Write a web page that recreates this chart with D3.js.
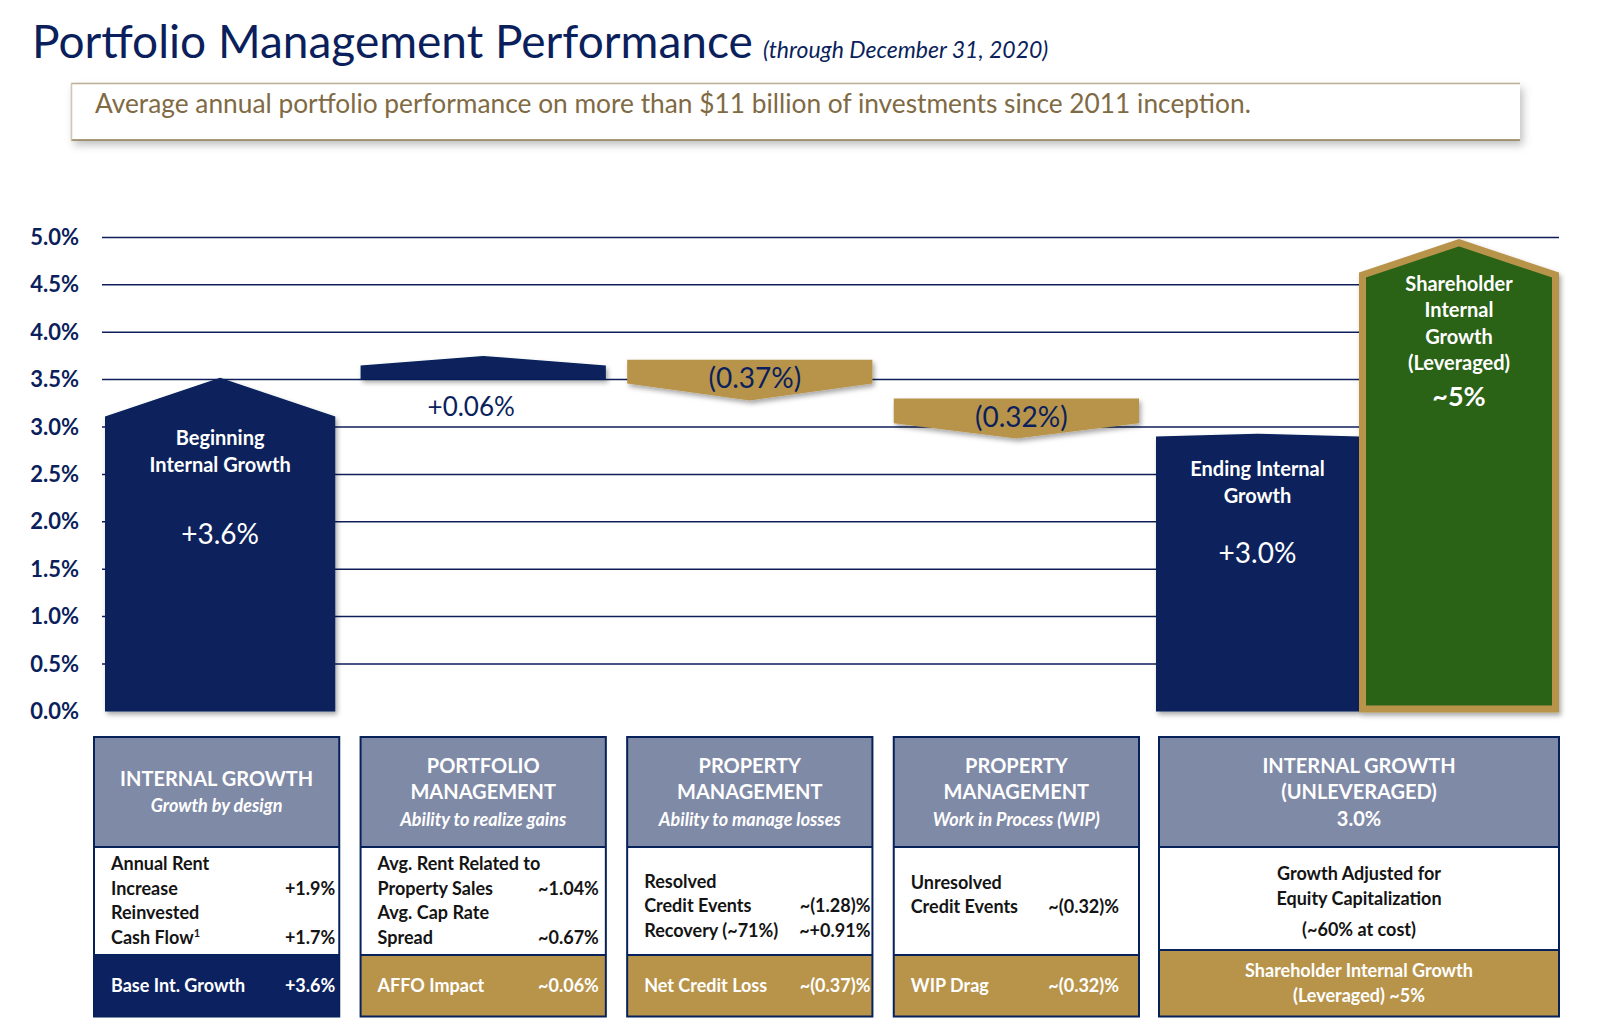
<!DOCTYPE html>
<html>
<head>
<meta charset="utf-8">
<script src="https://cdn.jsdelivr.net/npm/d3@7"></script>
<style>
	body { margin: 0; background: #fff; }
	svg text { font-family: Lato, "Open Sans", sans-serif; }
</style>
</head>
<body>
<svg id="chart" width="1600" height="1032"></svg>
<script>
// ---------------- data ----------------
const yTicks = [0, 0.5, 1, 1.5, 2, 2.5, 3, 3.5, 4, 4.5, 5];

const barKeys = ['internal', 'portfolio', 'credit', 'wip', 'ending', 'shareholder'];
// each bar is a house / chevron shape: start level, shoulder level, tip level (in %)
const barStart = [0, 3.50, 3.71, 3.30, 0, 0];
const barShoulder = [3.11, 3.65, 3.46, 3.04, 2.90, 4.64];
const barTip = [3.52, 3.75, 3.28, 2.88, 2.93, 4.98];
const barKind = ['navy', 'navy', 'gold', 'gold', 'navy', 'green'];
const barTitles = [
	['Beginning', 'Internal Growth'], [], [], [],
	['Ending Internal', 'Growth'],
	['Shareholder', 'Internal', 'Growth', '(Leveraged)']
];
const barValues = ['+3.6%', '+0.06%', '(0.37%)', '(0.32%)', '+3.0%', '~5%'];

const boxKeys = ['internal', 'portfolio', 'credit', 'wip', 'unleveraged'];
const boxHeads = [
	['INTERNAL GROWTH'],
	['PORTFOLIO', 'MANAGEMENT'],
	['PROPERTY', 'MANAGEMENT'],
	['PROPERTY', 'MANAGEMENT'],
	['INTERNAL GROWTH', '(UNLEVERAGED)', '3.0%']
];
const boxTags = ['Growth by design', 'Ability to realize gains', 'Ability to manage losses', 'Work in Process (WIP)', ''];
const boxRows = [
	[['Annual Rent', ''], ['Increase', '+1.9%'], ['Reinvested', ''], ['Cash Flow', '+1.7%', '1']],
	[['Avg. Rent Related to', ''], ['Property Sales', '~1.04%'], ['Avg. Cap Rate', ''], ['Spread', '~0.67%']],
	[['Resolved', ''], ['Credit Events', '~(1.28)%'], ['Recovery (~71%)', '~+0.91%']],
	[['Unresolved', ''], ['Credit Events', '~(0.32)%']],
	[['Growth Adjusted for', ''], ['Equity Capitalization', ''], ['(~60% at cost)', '']]
];
const boxFooters = [
	['Base Int. Growth', '+3.6%'],
	['AFFO Impact', '~0.06%'],
	['Net Credit Loss', '~(0.37)%'],
	['WIP Drag', '~(0.32)%'],
	['Shareholder Internal Growth', '(Leveraged) ~5%']
];

// ---------------- look ----------------
const NAVY = '#07215b';
const TEXT_NAVY = '#0b1f5c';
const GOLD = '#b8944b';
const GREEN = '#2b6219';
const SLATE = '#7f8aa7';
const fills = { navy: NAVY, gold: GOLD, green: GREEN };

const svg = d3.select('#chart');

const defs = svg.append('defs');
defs.append('filter').attr('id', 'shadow')
	.attr('x', '-10%').attr('y', '-10%').attr('width', '130%').attr('height', '140%')
	.append('feDropShadow')
	.attr('dx', 2).attr('dy', 3).attr('stdDeviation', 2.5)
	.attr('flood-color', '#000').attr('flood-opacity', 0.35);
defs.append('filter').attr('id', 'boxShadow')
	.attr('x', '-5%').attr('y', '-30%').attr('width', '110%').attr('height', '170%')
	.append('feDropShadow')
	.attr('dx', 3).attr('dy', 5).attr('stdDeviation', 4)
	.attr('flood-color', '#000').attr('flood-opacity', 0.25);

/* -------------------- title ---------------------- */
svg.append('text')
	.attr('x', 32).attr('y', 58)
	.attr('font-size', 46).attr('fill', TEXT_NAVY)
	.text('Portfolio Management Performance');
svg.append('text')
	.attr('x', 763).attr('y', 58)
	.attr('font-size', 23).attr('font-style', 'italic').attr('fill', TEXT_NAVY)
	.text('(through December 31, 2020)');

const sub = svg.append('g');
sub.append('rect')
	.attr('x', 71).attr('y', 83).attr('width', 1449).attr('height', 57)
	.attr('fill', '#fff').attr('filter', 'url(#boxShadow)');
sub.append('line').attr('x1', 71).attr('x2', 1520).attr('y1', 83.5).attr('y2', 83.5)
	.attr('stroke', '#bcae95').attr('stroke-width', 1.5);
sub.append('line').attr('x1', 71).attr('x2', 1520).attr('y1', 140).attr('y2', 140)
	.attr('stroke', '#8f7a55').attr('stroke-width', 1.5);
sub.append('line').attr('x1', 71.5).attr('x2', 71.5).attr('y1', 83).attr('y2', 140.5)
	.attr('stroke', '#cfc6b6').attr('stroke-width', 1.5);
sub.append('text')
	.attr('x', 95).attr('y', 113)
	.attr('font-size', 26.3).attr('fill', '#806a44')
	.text('Average annual portfolio performance on more than $11 billion of investments since 2011 inception.');

/* -------------------- scales ---------------------- */
const y = d3.scaleLinear().domain([0, 5]).range([711.4, 237.4]);

const x = d3.scaleBand()
	.domain(barKeys.slice(0, 4))
	.range([94, 1139])
	.paddingInner(0.08);

const x2 = d3.scaleBand()
	.domain(barKeys.slice(4))
	.range([1156, 1562]);

function barLeft(key) {
	return x.domain().includes(key) ? x(key) : x2(key);
}
function barWidth(key) {
	return x.domain().includes(key) ? x.bandwidth() : x2.bandwidth();
}

/* -------------------- grid + axis ---------------------- */
const grid = svg.append('g');
grid.selectAll('line')
	.data(yTicks.filter(d => d > 0))
	.join('line')
	.attr('x1', 102).attr('x2', 1559)
	.attr('y1', d => y(d)).attr('y2', d => y(d))
	.attr('stroke', '#0d1e5a').attr('stroke-width', 1.5);

const yAxis = svg.append('g')
	.attr('transform', 'translate(79,0)')
	.call(d3.axisLeft(y).tickValues(yTicks).tickSize(0).tickPadding(0)
		.tickFormat(d => d3.format('.1f')(d) + '%'));
yAxis.select('.domain').remove();
yAxis.selectAll('text')
	.attr('font-size', 22).attr('font-weight', 'bold')
	.attr('fill', TEXT_NAVY).attr('font-family', 'Lato, sans-serif');

svg.append('line')
	.attr('x1', 89).attr('x2', 1362)
	.attr('y1', y(0) + 1).attr('y2', y(0) + 1)
	.attr('stroke', NAVY).attr('stroke-width', 3.5)
	.attr('filter', 'url(#shadow)');

/* -------------------- bars ---------------------- */
const bars = barKeys.map((key, i) => {
	let x0 = barLeft(key);
	let x1 = x0 + barWidth(key);
	if (i === 0) { x0 += 11; x1 -= 4; }
	if (key === 'shareholder') { x1 -= 3; }
	return {
		key, x0, x1, kind: barKind[i],
		y0: y(barStart[i]), ys: y(barShoulder[i]), yt: y(barTip[i]),
		titles: barTitles[i], value: barValues[i]
	};
});

function shape(b) {
	const mid = (b.x0 + b.x1) / 2;
	if (b.kind === 'green') {
		const h = 3.5;
		return [[b.x0 + h, b.y0 + 1 - h], [b.x0 + h, b.ys + h], [mid, b.yt + h],
			[b.x1 - h, b.ys + h], [b.x1 - h, b.y0 + 1 - h]];
	}
	return [[b.x0, b.y0], [b.x0, b.ys], [mid, b.yt], [b.x1, b.ys], [b.x1, b.y0]];
}

svg.append('g').selectAll('polygon')
	.data(bars)
	.join('polygon')
	.attr('points', d => shape(d).map(p => p.join(',')).join(' '))
	.attr('fill', d => fills[d.kind])
	.attr('stroke', d => d.kind === 'green' ? GOLD : 'none')
	.attr('stroke-width', 7)
	.attr('filter', 'url(#shadow)');

/* -------------------- bar labels ---------------------- */
const titleDy = { internal: 28.5, ending: 40, shareholder: 19 };
bars.forEach(b => {
	const cx = (b.x0 + b.x1) / 2;
	const g = svg.append('g');
	let lastY = 0;
	b.titles.forEach((t, j) => {
		lastY = b.ys + titleDy[b.key] + j * 26.6;
		g.append('text')
			.attr('x', cx).attr('y', lastY)
			.attr('text-anchor', 'middle')
			.attr('font-size', 20).attr('font-weight', 'bold').attr('fill', '#fff')
			.text(t);
	});
	const v = g.append('text').attr('text-anchor', 'middle').text(b.value);
	if (b.key === 'internal' || b.key === 'ending') {
		v.attr('x', cx).attr('y', b.ys + 127).attr('font-size', 28).attr('fill', '#fff');
	} else if (b.key === 'shareholder') {
		v.attr('x', cx).attr('y', lastY + 36).attr('font-size', 27)
			.attr('font-weight', 'bold').attr('fill', '#fff');
	} else if (b.key === 'portfolio') {
		v.attr('x', cx - 12).attr('y', b.y0 + 36).attr('font-size', 26).attr('fill', TEXT_NAVY);
	} else {
		v.attr('x', cx + 5).attr('y', b.y0 + 28.5).attr('font-size', 28).attr('fill', TEXT_NAVY);
	}
});

/* -------------------- boxes under the chart ---------------------- */
const BOX_TOP = 737;
const HEAD_BOTTOM = 847;
const BOX_BOTTOM = 1016.5;
const valueInset = [4, 7, 2, 20, 0];
const bodyShift = [0, 0, 5, -6, 0];

boxKeys.forEach((key, i) => {
	const last = i === boxKeys.length - 1;
	const left = last ? 1159 : x(key);
	const right = last ? 1559 : x(key) + x.bandwidth();
	const footTop = last ? 950 : 955;
	const cx = (left + right) / 2;
	const g = svg.append('g');

	g.append('rect')
		.attr('x', left).attr('y', BOX_TOP)
		.attr('width', right - left).attr('height', HEAD_BOTTOM - BOX_TOP)
		.attr('fill', SLATE);
	g.append('rect')
		.attr('x', left).attr('y', footTop)
		.attr('width', right - left).attr('height', BOX_BOTTOM - footTop)
		.attr('fill', i === 0 ? '#0c2260' : GOLD);
	g.append('rect')
		.attr('x', left).attr('y', BOX_TOP)
		.attr('width', right - left).attr('height', BOX_BOTTOM - BOX_TOP)
		.attr('fill', 'none').attr('stroke', NAVY).attr('stroke-width', 2);
	[HEAD_BOTTOM, footTop].forEach(yy => {
		g.append('line')
			.attr('x1', left).attr('x2', right).attr('y1', yy).attr('y2', yy)
			.attr('stroke', NAVY).attr('stroke-width', 2);
	});

	// header
	const head = boxHeads[i].map(t => ({ t, italic: false }));
	if (boxTags[i]) head.push({ t: boxTags[i], italic: true });
	const hc = (BOX_TOP + HEAD_BOTTOM) / 2;
	head.forEach((h, j) => {
		g.append('text')
			.attr('x', cx)
			.attr('y', hc - (head.length - 1) * 26.5 / 2 + j * 26.5 + 7)
			.attr('text-anchor', 'middle')
			.attr('font-size', h.italic ? 18 : 20)
			.attr('font-weight', 'bold')
			.attr('font-style', h.italic ? 'italic' : 'normal')
			.attr('fill', '#fff')
			.text(h.t);
	});

	// body rows
	const rows = boxRows[i];
	const bc = (HEAD_BOTTOM + footTop) / 2 + bodyShift[i];
	const lastOffsets = [-18.5, 6, 37.5];
	rows.forEach((r, j) => {
		const yy = last ? bc + lastOffsets[j] : bc - (rows.length - 1) * 24.5 / 2 + j * 24.5 + 6;
		const t = g.append('text')
			.attr('x', last ? cx : left + 17).attr('y', yy)
			.attr('text-anchor', last ? 'middle' : 'start')
			.attr('font-size', 18).attr('font-weight', 'bold').attr('fill', '#141414')
			.text(r[0]);
		if (r[2]) {
			t.append('tspan').attr('dy', -7).attr('font-size', 11).text(r[2]);
		}
		if (r[1]) {
			g.append('text')
				.attr('x', right - valueInset[i]).attr('y', yy)
				.attr('text-anchor', 'end')
				.attr('font-size', 18).attr('font-weight', 'bold').attr('fill', '#141414')
				.text(r[1]);
		}
	});

	// footer
	const f = boxFooters[i];
	const fc = (footTop + BOX_BOTTOM) / 2;
	if (last) {
		f.forEach((t, j) => {
			g.append('text')
				.attr('x', cx).attr('y', fc - 12.5 + j * 25 + 6)
				.attr('text-anchor', 'middle')
				.attr('font-size', 18).attr('font-weight', 'bold').attr('fill', '#fff')
				.text(t);
		});
	} else {
		g.append('text')
			.attr('x', left + 17).attr('y', fc + 6)
			.attr('font-size', 18).attr('font-weight', 'bold').attr('fill', '#fff')
			.text(f[0]);
		g.append('text')
			.attr('x', right - valueInset[i]).attr('y', fc + 6)
			.attr('text-anchor', 'end')
			.attr('font-size', 18).attr('font-weight', 'bold').attr('fill', '#fff')
			.text(f[1]);
	}
});
</script>
</body>
</html>
